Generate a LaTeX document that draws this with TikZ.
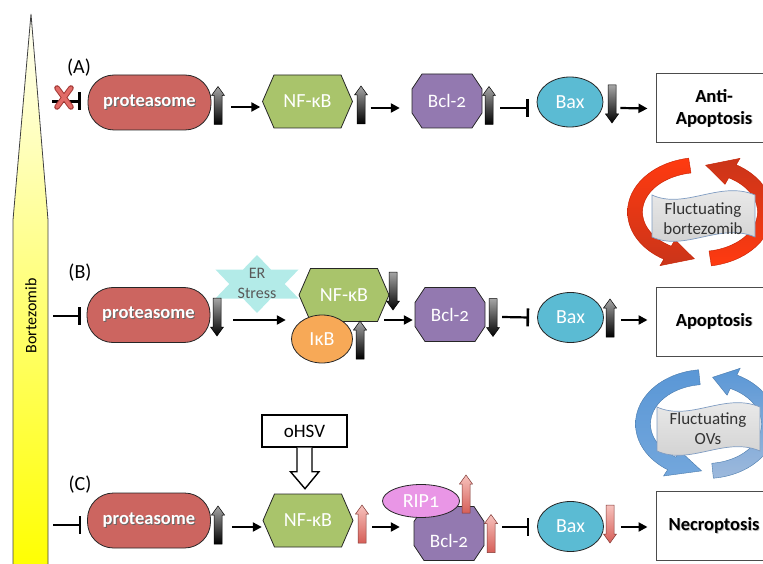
\documentclass[tikz,border=0pt]{standalone}
\usepackage{fontspec}
\setmainfont{Carlito}[Numbers=OldStyle]
\usetikzlibrary{arrows.meta,calc,shapes.geometric}
\definecolor{protc}{HTML}{CC6560}
\definecolor{nfc}{HTML}{A9C46B}
\definecolor{bclc}{HTML}{9379B0}
\definecolor{baxc}{HTML}{5BBBD3}
\definecolor{ikc}{HTML}{F7A957}
\definecolor{ripc}{HTML}{E996E6}
\definecolor{erc}{HTML}{B3EBE8}
\definecolor{redA}{HTML}{FF3A10}
\definecolor{redB}{HTML}{C41E00}
\definecolor{bluA}{HTML}{5A97D6}
\definecolor{bluB}{HTML}{9DB9DC}
\definecolor{pinkT}{HTML}{F7C2BD}
\definecolor{pinkB}{HTML}{D65F58}
\definecolor{bannerb}{HTML}{7F9CC2}
\definecolor{xred}{HTML}{E26B67}
\definecolor{xdark}{HTML}{A33A36}
\newcommand{\shtext}[2]{\makebox[0pt][l]{\hspace{0.9pt}\raisebox{-0.9pt}{\textcolor{#2}{#1}}}#1}
% block arc arrow: cx cy rx ry start headbase tip style
\newcommand{\arcarrow}[8]{%
  \path[#8] plot[domain=#5:#6,samples=40] ({#1+(#3+7.5)*cos(\x)},{#2+(#4+7.5)*sin(\x)})
   -- ({#1+(#3+15)*cos(#6)},{#2+(#4+15)*sin(#6)})
   -- ({#1+#3*cos(#7)},{#2+#4*sin(#7)})
   -- ({#1+(#3-15)*cos(#6)},{#2+(#4-15)*sin(#6)})
   -- plot[domain=#6:#5,samples=40] ({#1+(#3-7.5)*cos(\x)},{#2+(#4-7.5)*sin(\x)}) -- cycle;}
\tikzset{
  pics/hexa/.style={code={\draw[edge, fill=nfc] (-45,0)--(-33.5,-26.5)--(33.5,-26.5)--(45,0)--(33.5,26.5)--(-33.5,26.5)--cycle;}},
  pics/octa/.style={code={\draw[edge, fill=bclc] (-35,-12)--(-25,-27)--(25,-27)--(35,-12)--(35,12)--(25,27)--(-25,27)--(-35,12)--cycle;}},
  pics/uparr/.style 2 args={code={\shade[top color=#1, bottom color=#2, draw=#2!60!black, line width=0.5pt] (0,-19)--(6.5,-10)--(4,-10)--(4,19)--(-4,19)--(-4,-10)--(-6.5,-10)--cycle;}},
  pics/dnarr/.style 2 args={code={\shade[top color=#1, bottom color=#2, draw=#2!60!black, line width=0.5pt] (0,19)--(6.5,10)--(4,10)--(4,-19)--(-4,-19)--(-4,10)--(-6.5,10)--cycle;}},
}
\begin{document}
\begin{tikzpicture}[x=1pt,y=-1pt,
  every node/.style={inner sep=0pt, font=\fontsize{18}{21}\selectfont},
  edge/.style={draw=black!85, line width=0.8pt},
  prot/.style={edge, rectangle, rounded corners=26pt, fill=protc, minimum width=123pt, minimum height=55pt, text=white, font=\bfseries\fontsize{18.5}{21}\selectfont},
  hexlab/.style={minimum width=90pt, minimum height=53pt, text=white, font=\fontsize{20}{21}\selectfont},
  octlab/.style={minimum width=70pt, minimum height=54pt, text=white, font=\fontsize{19}{21}\selectfont},
  bax/.style={edge, ellipse, fill=baxc, minimum width=66pt, minimum height=50pt, text=white, font=\fontsize{20}{21}\selectfont},
  outbox/.style={draw=black!70, line width=1pt, fill=white, minimum width=116pt, minimum height=69pt, align=center, font=\bfseries\fontsize{18.5}{22}\selectfont},
  lab/.style={font=\fontsize{20}{22}\selectfont},
  act/.style={line width=2.2pt, -{Triangle[length=9pt,width=9pt]}},
  inh/.style={line width=2.2pt, -{Bar[width=18pt,line width=2.6pt]}},
  banner/.style={draw=bannerb, line width=0.7pt, top color=black!7, bottom color=black!19},
  fltext/.style={align=center, text=black!80, font=\fontsize{17}{20}\selectfont},
]
\useasboundingbox (0,0) rectangle (763,564);
\clip (0,0) rectangle (763,564);

% Bortezomib bar
\shade[top color=yellow!4, bottom color=yellow, draw=black!75, line width=0.8pt] (31,14) -- (48,220) -- (48,570) -- (13,570) -- (13,220) -- cycle;
\node[rotate=90, font=\fontsize{16}{18}\selectfont] (bzt) at (31,316) {Bortezomib};

% circular arrows
\arcarrow{700}{212}{65}{47}{261}{120}{95}{top color=redA, bottom color=redB!90, draw=redB, line width=0.4pt}
\arcarrow{700}{212}{65}{47}{81}{-60}{-85}{top color=redB!90, bottom color=redA, draw=redB, line width=0.4pt}
\arcarrow{706}{424}{63}{47}{264}{123}{94}{top color=bluA, bottom color=bluA!85!white, draw=bluA!80!black, line width=0.4pt}
\arcarrow{706}{424}{63}{47}{84}{-64}{-84}{top color=bluA, bottom color=bluB, draw=bluA!80!black, line width=0.4pt}

% banners
\path[banner] (652,195) .. controls (685,210) and (720,180) .. (755,195) -- (755,237) .. controls (720,222) and (685,252) .. (652,237) -- cycle;
\node[fltext] (flb) at (703,219) {Fluctuating\\bortezomib};
\path[banner] (657,407) .. controls (690,422) and (725,392) .. (760,407) -- (760,451) .. controls (725,436) and (690,466) .. (657,451) -- cycle;
\node[fltext] (flo) at (708,429) {Fluctuating\\OVs};

% ===== Row A =====
\node[lab] (labA) at (79,68) {(A)};
\coordinate (bzA) at (52,101.5);
\node[prot] (protA) at (149.5,102.5) {\shtext{proteasome}{black!60}};
\pic at (307.5,101.5) {hexa};
\node[hexlab] (nfA) at (307.5,101.5) {NF-κB};
\pic at (447,101) {octa};
\node[octlab] (bclA) at (447,101) {Bcl-2};
\node[bax] (baxA) at (570,102) {Bax};
\node[outbox] (outA) at (714,108.5) {\shtext{Anti-}{black!25}\\\shtext{Apoptosis}{black!25}};
\pic at (218,105.5) {uparr={black!35}{black}};
\pic at (361,105) {uparr={black!35}{black}};
\pic at (489,105.5) {uparr={black!35}{black}};
\pic at (612,104) {dnarr={black!35}{black}};
\draw[inh] (bzA) -- ($(protA.west)+(-7,-1)$);
\draw[line width=5.6pt, xdark, line cap=round] (57,88) -- (71,107) (71,88) -- (57,107);
\draw[line width=3.6pt, xred, line cap=round] (57,88) -- (71,107) (71,88) -- (57,107);
\draw[act] ($(protA.east)+(20,4.5)$) -- ($(nfA.west)+(-2,5.5)$);
\draw[act] ($(nfA.east)+(18,6.5)$) -- ($(bclA.west)+(-12,7)$);
\draw[inh] ($(bclA.east)+(18,7)$) -- ($(baxA.west)+(-8,6)$);
\draw[act] ($(baxA.east)+(17,6)$) -- ($(outA.west)+(-8,0)$);

% ===== Row B =====
\node[lab] (labB) at (80,273) {(B)};
\coordinate (bzB) at (53,316);
\node[prot] (protB) at (148.5,315) {\shtext{proteasome}{black!60}};
\fill[erc] (257,255) -- (270.9,269.5) -- (298.6,269.5) -- (284.7,284) -- (298.6,298.5) -- (270.9,298.5) -- (257,313) -- (243.1,298.5) -- (215.4,298.5) -- (229.3,284) -- (215.4,269.5) -- (243.1,269.5) -- cycle;
\node[align=center, text=black!65, font=\fontsize{16}{20}\selectfont] (er) at (257,283) {ER\\Stress};
\pic at (344,295) {hexa};
\node[hexlab] (nfB) at (344,295) {NF-κB};
\node[edge, ellipse, fill=ikc, minimum width=61pt, minimum height=48pt, text=white, font=\fontsize{20}{21}\selectfont] (ikB) at (322,339) {IκB};
\pic at (450,314.5) {octa};
\node[octlab] (bclB) at (450,314.5) {Bcl-2};
\node[bax] (baxB) at (570.5,317.5) {Bax};
\node[outbox] (outB) at (714,321.5) {\shtext{Apoptosis}{black!25}};
\pic at (217,317) {dnarr={black!35}{black}};
\pic at (393,291) {dnarr={black!35}{black}};
\pic at (360,340) {uparr={black!35}{black}};
\pic at (493,317.5) {dnarr={black!35}{black}};
\pic at (610,318) {uparr={black!35}{black}};
\draw[inh] (bzB) -- ($(protB.west)+(-6,1)$);
\draw[act] ($(protB.east)+(23,5)$) -- ($(nfB.west)+(-13,25)$);
\draw[act] ($(nfB.east)+(-5,25)$) -- ($(bclB.west)+(-2,5.5)$);
\draw[inh] ($(bclB.east)+(17,2.5)$) -- ($(baxB.west)+(-8,0)$);
\draw[act] ($(baxB.east)+(17,2.5)$) -- ($(outB.west)+(-8,-1.5)$);

% ===== Row C =====
\node[lab] (labC) at (80,485) {(C)};
\coordinate (bzC) at (53,525);
\node[prot] (protC) at (149,520.5) {\shtext{proteasome}{black!60}};
\pic at (308,520.5) {hexa};
\node[hexlab] (nfC) at (308,520.5) {NF-κB};
\node[draw=black, line width=1.4pt, fill=white, minimum width=85pt, minimum height=32pt, font=\fontsize{19}{21}\selectfont] (ohsv) at (304.5,431) {oHSV};
\draw[draw=black, line width=1.4pt, fill=white, line join=miter] ($(ohsv.south)+(-7.5,0)$) -- ++(0,24) -- ++(-6.5,0) -- ($(ohsv.south)+(0.5,41)$) -- ($(ohsv.south)+(14.5,24)$) -- ++(-7,0) -- ++(0,-24);
\pic at (449,533.5) {octa};
\node[octlab] (bclC) at (449,533.5) {};
\node[octlab, minimum height=30pt] (bclCt) at (449,541) {Bcl-2};
\node[edge, ellipse, fill=ripc, minimum width=77pt, minimum height=33pt, text=white, font=\fontsize{20}{21}\selectfont] (ripC) at (421,501) {RIP1};
\node[bax] (baxC) at (570.5,526.5) {Bax};
\node[outbox] (outC) at (714,526) {\shtext{Necroptosis}{black!25}};
\pic at (218,525) {uparr={black!35}{black}};
\pic at (362,524) {uparr={pinkT}{pinkB}};
\pic at (466,494) {uparr={pinkT}{pinkB}};
\pic at (491,533.5) {uparr={pinkT}{pinkB}};
\pic at (610,524) {dnarr={pinkT}{pinkB}};
\draw[inh] (bzC) -- ($(protC.west)+(-6,4.5)$);
\draw[act] ($(protC.east)+(21,6.5)$) -- ($(nfC.west)+(-1,6.5)$);
\draw[act] ($(nfC.east)+(19,6.5)$) -- ($(bclC.west)+(-14,-6.5)$);
\draw[inh] ($(bclC.east)+(18,-6.5)$) -- ($(baxC.west)+(-8,0.5)$);
\draw[act] ($(baxC.east)+(17,0.5)$) -- ($(outC.west)+(-8,1)$);
\end{tikzpicture}
\end{document}
